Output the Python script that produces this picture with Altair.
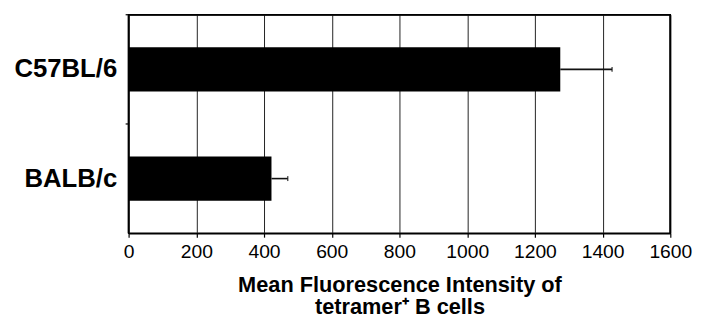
import altair as alt
import pandas as pd

strains = ["C57BL/6", "BALB/c"]
mfi = [1275, 422]
err = [153, 48]
x_ticks = [0, 200, 400, 600, 800, 1000, 1200, 1400, 1600]

df = pd.DataFrame({"strain": strains, "mfi": mfi, "err": err})
df["hi"] = df["mfi"] + df["err"]

FONT = "Liberation Sans"
W, H = 548, 221

yenc = alt.Y(
    "strain:N",
    sort=strains,
    scale=alt.Scale(paddingInner=0, paddingOuter=0),
    axis=alt.Axis(
        title=None, ticks=False, domain=False, labelFont=FONT, labelFontSize=26,
        labelFontWeight="bold", labelColor="black", labelPadding=12,
    ),
)
xscale = alt.Scale(domain=[0, 1600], nice=False, zero=True)
xenc = alt.X(
    "mfi:Q",
    scale=xscale,
    axis=alt.Axis(
        values=x_ticks, format="d", labelOverlap=False, labelFlush=False,
        title=["Mean Fluorescence Intensity of", "tetramer\u207a B cells"],
        labelFont=FONT, labelFontSize=19.5, labelColor="black", labelPadding=6,
        tickSize=4, tickColor="black", tickWidth=1.2,
        domainColor="black", domainWidth=1.5,
        grid=True, gridColor="#222222", gridWidth=1,
        titleFont=FONT, titleFontSize=22, titleFontWeight="bold", titleColor="black",
        titlePadding=13, titleLineHeight=23,
    ),
)

bars = alt.Chart(df).mark_bar(color="black", height={"band": 0.405}).encode(x=xenc, y=yenc)

errline = alt.Chart(df).mark_rule(color="#111111", strokeWidth=1.6).encode(
    x="mfi:Q", x2="hi:Q", y=alt.Y("strain:N", sort=strains)
)
caps = alt.Chart(df).mark_tick(color="#111111", thickness=1.5, size=5).encode(
    x="hi:Q", y=alt.Y("strain:N", sort=strains)
)
yticks = alt.Chart(df).mark_rule(color="black", strokeWidth=1.2).encode(
    x=alt.value(-3), x2=alt.value(0), y=alt.Y("strain:N", sort=strains, bandPosition=0)
)
top_border = alt.Chart(df).mark_rule(color="black", strokeWidth=1.5).encode(
    x=alt.value(0), x2=alt.value(W), y=alt.value(0)
)
left_border = alt.Chart(df).mark_rule(color="black", strokeWidth=1.5).encode(
    x=alt.value(0), y=alt.value(0), y2=alt.value(H)
)
right_border = alt.Chart(df).mark_rule(color="black", strokeWidth=1.5).encode(
    x=alt.value(W), y=alt.value(0), y2=alt.value(H)
)

chart = alt.layer(
    bars, errline, caps, yticks, top_border, left_border, right_border
).properties(
    width=W, height=H,
    background="white",
    autosize=alt.AutoSizeParams(type="none"),
    padding={"left": 122, "top": 5, "right": 27, "bottom": 88},
).configure_view(stroke="black", strokeWidth=1.5)

chart.save("out.html", embed_options={"renderer": "svg", "actions": False})
